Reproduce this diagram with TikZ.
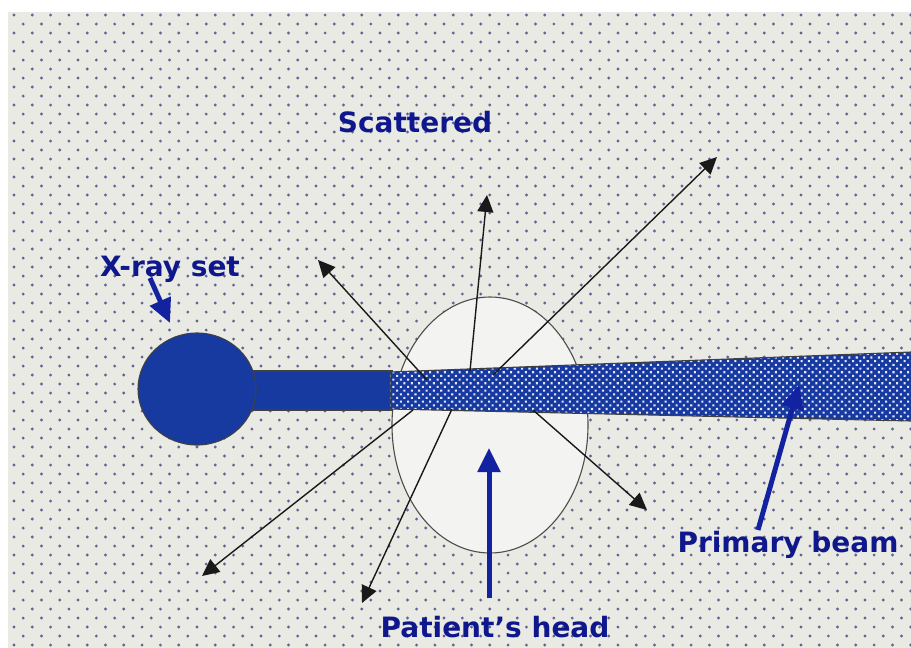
\documentclass[tikz,border=0pt]{standalone}
\usepackage{fontspec}
\setmainfont{DejaVu Sans}
\usetikzlibrary{arrows.meta,patterns.meta,shapes.geometric}
\definecolor{bg}{RGB}{234,234,229}
\definecolor{dotc}{RGB}{100,100,145}
\definecolor{navy}{RGB}{14,24,140}
\definecolor{arrowblue}{RGB}{18,34,160}
\definecolor{beamblue}{RGB}{22,58,160}
\definecolor{headfill}{RGB}{243,243,241}
\tikzset{
  label/.style={font=\fontsize{28}{32}\selectfont\bfseries, text=navy, anchor=base, inner sep=0pt},
  scat/.style={line width=1.4pt, draw=black!90, -{Triangle[length=17pt,width=16pt]}},
  pointer/.style={line width=5pt, draw=arrowblue, -{Triangle[length=24pt,width=22pt]}},
  outline/.style={draw=black!75, line width=1.1pt}
}
\begin{document}
\begin{tikzpicture}[x=1pt,y=-1pt]
\useasboundingbox (0,0) rectangle (911,648);
\fill[white] (0,0) rectangle (911,648);
\fill[bg] (8,12) rectangle (911,648);
\begin{scope}
\clip (8,12) rectangle (911,648);
\foreach \r in {0,...,70}{
  \pgfmathsetmacro{\yy}{15+9*\r}
  \pgfmathsetmacro{\xo}{mod(\r,2)*9.15}
  \foreach \c in {0,...,49}{
    \fill[dotc] ({14+\xo+18.3*\c},\yy) circle (1.6pt);
  }
}
\end{scope}
% patient's head
\node (head) [ellipse, draw=black!70, line width=1.1pt, fill=headfill, minimum width=196pt, minimum height=256pt, inner sep=0pt] at (490,425) {};
% tube
\draw[outline, fill=beamblue] (250,371) rectangle (392,410);
\node (xray) [ellipse, outline, fill=beamblue, minimum width=118pt, minimum height=112pt, inner sep=0pt] at (197,389) {};
% primary beam
\fill[beamblue] (390,372) -- (911,352) -- (911,421) -- (390,409) -- cycle;
\fill[pattern={Dots[distance=5.2pt, angle=45, radius=1.45pt]}, pattern color=white!90!blue] (390,372) -- (911,352) -- (911,421) -- (390,409) -- cycle;
\draw[outline] (911,352) -- (390,372) -- (390,409) -- (911,421);
% scattered rays
\coordinate (s1a) at (427,380); \coordinate (s1b) at (318,260);
\coordinate (s2a) at (470,371); \coordinate (s2b) at (487,195);
\coordinate (s3a) at (493,375); \coordinate (s3b) at (717,157);
\coordinate (s4a) at (533,410); \coordinate (s4b) at (647,510);
\coordinate (s5a) at (413,410); \coordinate (s5b) at (202,576);
\coordinate (s6a) at (452,409); \coordinate (s6b) at (362,603);
\draw[scat] (s1a) -- (s1b);
\draw[scat] (s2a) -- (s2b);
\draw[scat] (s3a) -- (s3b);
\draw[scat] (s4a) -- (s4b);
\draw[scat] (s5a) -- (s5b);
\draw[scat] (s6a) -- (s6b);
% labels
\node (scattered) [label] at (415,132) {Scattered};
\node (xlabel) [label] at (170,276) {X-ray set};
\node (plabel) [label] at (495,637) {Patient’s head};
\node (blabel) [label] at (788,552) {Primary beam};
% pointers
\coordinate (p1a) at (150,278); \coordinate (p1b) at (170,323);
\coordinate (p2a) at (489,598); \coordinate (p2b) at (489,448);
\coordinate (p3a) at (758,530); \coordinate (p3b) at (799,385);
\draw[pointer] (p1a) -- (p1b);
\draw[pointer] (p2a) -- (p2b);
\draw[pointer] (p3a) -- (p3b);
\end{tikzpicture}
\end{document}
